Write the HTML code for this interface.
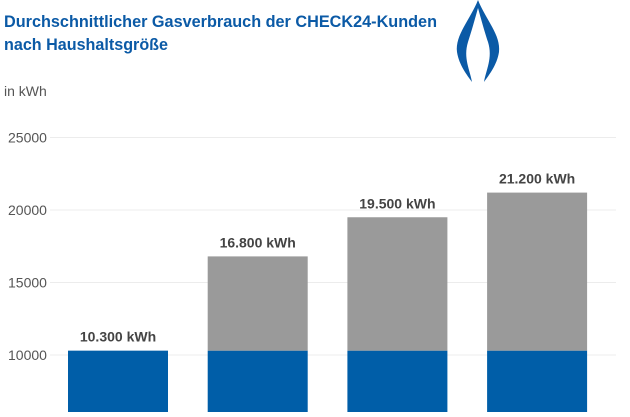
<!DOCTYPE html>
<html><head><meta charset="utf-8"><style>
body{margin:0;width:630px;height:412px;overflow:hidden;background:#fff;font-family:"Liberation Sans",sans-serif}
</style></head><body>
<svg id="c" width="630" height="412" xmlns="http://www.w3.org/2000/svg">
<text x="4" y="27" font-size="17" font-weight="bold" fill="#0b5aa6" textLength="433" lengthAdjust="spacingAndGlyphs">Durchschnittlicher Gasverbrauch der CHECK24-Kunden</text>
<text x="4" y="50" font-size="17" font-weight="bold" fill="#0b5aa6" textLength="164" lengthAdjust="spacingAndGlyphs">nach Haushaltsgröße</text>
<path d="M478 0 C470 20 455 35 457 52 C459 65 467 75 472 82 C470 70 463 58 468 42 C472 30 476 15 478 8 C480 15 484 30 488 42 C493 58 486 70 484 82 C489 75 497 65 499 52 C501 35 486 20 478 0 Z" fill="#0b5aa6"/>
<text x="4" y="96" font-size="14" fill="#555">in kWh</text>
<g id="grid"></g><g id="bars"></g>
</svg>
<script>
const categories=["1 Person","2 Personen","3 Personen","4 Personen"];
const baseValues=[10300,10300,10300,10300];
const totalValues=[10300,16800,19500,21200];
const valueLabels=["10.300 kWh","16.800 kWh","19.500 kWh","21.200 kWh"];
const ticks=[10000,15000,20000,25000];
const NS="http://www.w3.org/2000/svg";
const y=v=>355-(v-10000)*72.5/5000;
const x=i=>68+i*139.7;
const bw=100;
function mk(t,a,p){const e=document.createElementNS(NS,t);for(const k in a)e.setAttribute(k,a[k]);p.appendChild(e);return e;}
const g=document.getElementById('grid'),b=document.getElementById('bars');
ticks.forEach(t=>{
 const l=mk('line',{x1:50,x2:616,y1:y(t),y2:y(t),stroke:'#ececec','stroke-width':1},g);
 
 
 const tx=mk('text',{x:8,y:y(t)+5,'font-size':14,fill:'#555'},g);
 tx.textContent=t;
 
 
});
categories.forEach((c,i)=>{
 const bl=mk('rect',{x:x(i),y:y(baseValues[i]),width:bw,height:412-y(baseValues[i]),fill:'#005ea8'},b);
 
 
 if(totalValues[i]>baseValues[i]){
  const gr=mk('rect',{x:x(i),y:y(totalValues[i]),width:bw,height:y(baseValues[i])-y(totalValues[i]),fill:'#9a9a9a'},b);
  
  
 }
 const t=mk('text',{x:x(i)+bw/2,y:y(totalValues[i])-9,'font-size':14,'font-weight':'bold',fill:'#444','text-anchor':'middle'},b);
 t.textContent=valueLabels[i];
 
 
});
</script>
</body></html>
